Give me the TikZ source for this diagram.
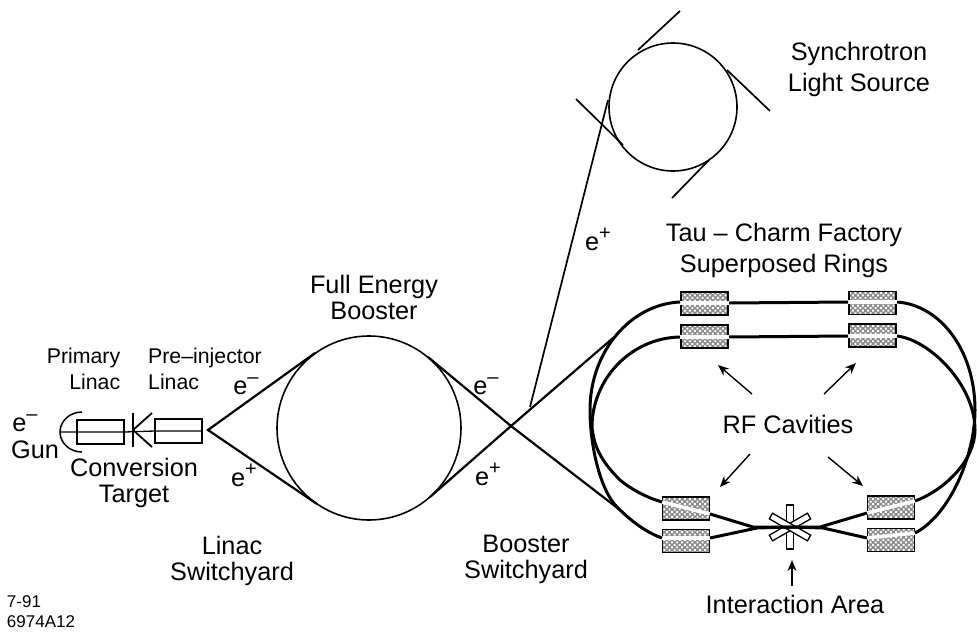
\documentclass[tikz,border=0pt]{standalone}
\usepackage{fontspec}
\setmainfont{Liberation Sans}
\usetikzlibrary{patterns.meta,arrows.meta}
\newcommand{\esup}[1]{e\raisebox{.42em}{\fontsize{20}{20}\selectfont #1}}
\tikzset{
    lbl/.style={font=\fontsize{25.3}{25.5}\selectfont,align=center,inner sep=0pt,anchor=base},
    lblwide/.style={font=\fontsize{25.3}{31}\selectfont,align=center,inner sep=0pt,anchor=base},
    lblsmall/.style={font=\fontsize{21.3}{25.5}\selectfont,inner sep=0pt,anchor=base},
    beam/.style={line width=2.2pt},
    ringbeam/.style={line width=3pt},
    thinbeam/.style={line width=1.7pt},
    magnet/.style={draw,line width=1.6pt,minimum width=47pt,minimum height=23pt,inner sep=0pt,
        preaction={fill=black!45},pattern={Dots[distance=3.6pt,radius=1.4pt,angle=45]},pattern color=white},
    gapband/.style={white,line width=3.5pt},
    lensbox/.style={draw,line width=1.3pt,minimum width=47pt,minimum height=24pt,inner sep=0pt},
    starbar/.style={draw,fill=white,line width=1.3pt,minimum width=44pt,minimum height=6.5pt,inner sep=0pt},
    ptr/.style={-{Stealth[length=11pt,width=9pt]},line width=1.4pt},
}
\begin{document}
\begin{tikzpicture}[x=1pt,y=-1pt]
    \useasboundingbox (0,0) rectangle (977,634);

    % linac
    \coordinate (gunback) at (60,432);
    \coordinate (split) at (208,430);
    \node [lensbox] (primary) at (100.5,432) {};
    \node [lensbox] (preinj) at (178.5,431) {};
    \draw [line width=1.5pt] (82,412) arc [start angle=-90,end angle=-270,x radius=22,y radius=20];
    \draw [line width=1.3pt] (gunback) -- (primary.west) -- (primary.east) -- (preinj.west) -- (preinj.east);
    \coordinate (ktop) at (133,413);
    \coordinate (kbot) at (133,447);
    \coordinate (kmid) at (133,430);
    \draw [line width=2.2pt] (ktop) -- (kbot);
    \draw [line width=1.8pt] (152,413) -- (kmid) -- (152,447);

    % booster
    \node [draw,circle,line width=1.6pt,minimum size=184pt,inner sep=0pt] (booster) at (369,428) {};
    \coordinate (boostUL) at (315,353);
    \coordinate (boostLL) at (317,504);
    \coordinate (boostUR) at (428,357);
    \coordinate (boostLR) at (430,497);
    \coordinate (cross) at (511,426);
    \draw [beam] (boostUL) -- (split) -- (boostLL);
    \draw [beam] (boostUR) -- (cross) -- (620,510);
    \draw [beam] (boostLR) -- (cross) -- (613,338);

    % light source
    \node [draw,circle,line width=1.6pt,minimum size=128pt,inner sep=0pt] (synch) at (673,107) {};
    \coordinate (tap) at (530,407);
    \draw [thinbeam] (tap) -- (608,100);
    \draw [thinbeam] (680,11) -- (638,50);
    \draw [thinbeam] (727,70) -- (770,111);
    \draw [thinbeam] (576,99) -- (623,145);
    \draw [thinbeam] (710,159) -- (672,198);

    % magnets
    \node [magnet] (tl1) at (704.5,303.5) {};
    \node [magnet] (tl2) at (704.5,336.5) {};
    \node [magnet] (tr1) at (872.5,303) {};
    \node [magnet] (tr2) at (872.5,335.5) {};
    \node [magnet] (bl1) at (686,508.5) {};
    \node [magnet] (bl2) at (686,541) {};
    \node [magnet] (br1) at (891,507.5) {};
    \node [magnet] (br2) at (891,540) {};
    \draw [gapband] (680,303) -- (729,303);
    \draw [gapband] (680,337) -- (729,337);
    \draw [gapband] (848,302) -- (897,302);
    \draw [gapband] (848,336) -- (897,336);
    \draw [gapband] (662,502) -- (710,514);
    \draw [gapband] (662,538) -- (710,538);
    \draw [gapband] (867,513) -- (915,501);
    \draw [gapband] (867,538) -- (915,533);

    % rings
    \draw [ringbeam] (729,303) -- (848,302);
    \draw [ringbeam] (729,337) -- (848,336);
    \draw [ringbeam] (680,302) .. controls (632,304) and (590,350) .. (590,410)
        .. controls (590,445) and (600,490) .. (617,507)
        .. controls (630,520) and (645,532) .. (662,538);
    \draw [ringbeam] (680,337) .. controls (630,338) and (592,380) .. (592,427)
        .. controls (594,450) and (605,465) .. (620,480)
        .. controls (632,490) and (648,498) .. (662,502);
    \draw [ringbeam] (897,302) .. controls (940,305) and (975,350) .. (975,410)
        .. controls (975,455) and (950,515) .. (915,533);
    \draw [ringbeam] (897,336) .. controls (930,340) and (975,385) .. (975,430)
        .. controls (975,460) and (945,490) .. (915,501);

    % interaction point
    \coordinate (ip) at (790,527);
    \node [starbar,rotate=90] (star1) at (ip) {};
    \node [starbar,rotate=30] (star2) at (ip) {};
    \node [starbar,rotate=-30] (star3) at (ip) {};
    \draw [ringbeam] (710,514) -- (753,527) -- (ip);
    \draw [ringbeam] (710,538) -- (757,528) -- (ip);
    \draw [ringbeam] (867,513) -- (820,527) -- (ip);
    \draw [ringbeam] (867,538) -- (823,528) -- (ip);

    % arrows
    \draw [ptr] (752,394) -- (718,365);
    \draw [ptr] (824,394) -- (856,363);
    \draw [ptr] (750,454) -- (720,487);
    \draw [ptr] (828,457) -- (863,486);
    \draw [ptr] (792,586) -- (792,560);

    % labels
    \node [lblwide] (synchlbl) at (859,92) {Synchrotron\\Light Source};
    \node [lblwide] (taulbl) at (784,272) {Tau -- Charm Factory\\Superposed Rings};
    \node [lbl] (fullbl) at (374,319) {Full Energy\\Booster};
    \node [lblsmall,align=right] (primlbl) at (83.5,389) {Primary\\Linac};
    \node [lblsmall,align=left] (prelbl) at (205,389) {Pre--injector\\Linac};
    \node [lbl] (rflbl) at (788,433) {RF Cavities};
    \node [lbl] (convlbl) at (134,502) {Conversion\\Target};
    \node [lbl] (gunlbl) at (35,458) {Gun};
    \node [lbl] (linlbl) at (232,580) {Linac\\Switchyard};
    \node [lbl] (boolbl) at (526,578) {Booster\\Switchyard};
    \node [lbl] (iplbl) at (795,613) {Interaction Area};
    \node [lbl] (egun) at (25,431) {\esup{--}};
    \node [lbl] (eminusa) at (246,394) {\esup{--}};
    \node [lbl] (eplusa) at (244,486) {\esup{+}};
    \node [lbl] (eminusb) at (486,394) {\esup{--}};
    \node [lbl] (eplusb) at (488,485) {\esup{+}};
    \node [lbl] (eplusc) at (598,250) {\esup{+}};
    \node [font=\fontsize{17}{20}\selectfont,align=left,inner sep=0pt,anchor=base] (codelbl) at (41,627) {7-91\\6974A12};
\end{tikzpicture}
\end{document}
